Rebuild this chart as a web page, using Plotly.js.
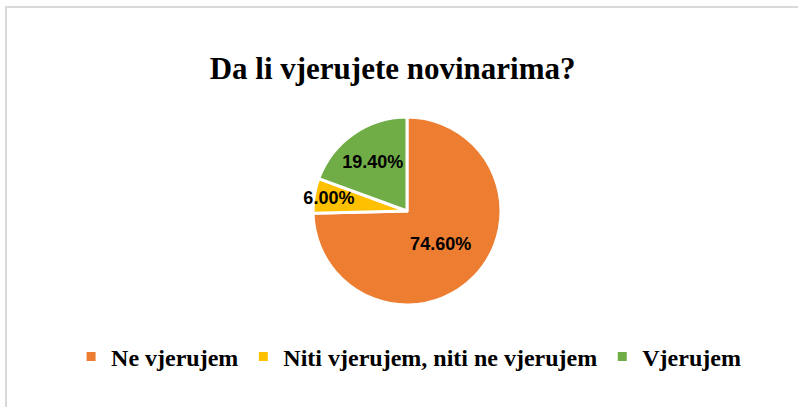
<!DOCTYPE html>
<html>
<head>
<meta charset="utf-8">
<script src="https://cdn.plot.ly/plotly-3.0.1.min.js"></script>
<style>html,body{margin:0;padding:0;background:#fff;}#chart{width:798px;height:407px;}</style>
</head>
<body>
<div id="chart"></div>
<script>
var chartTitle = 'Da li vjerujete novinarima?';
var categories = ['Ne vjerujem', 'Niti vjerujem, niti ne vjerujem', 'Vjerujem'];
var values = [74.6, 6.0, 19.4];
var colors = ['#ED7D31', '#FFC000', '#70AD47'];

var W = 798, H = 407;
var cx = 407, cy = 211, r = 94;
var serif = 'Liberation Serif';

var trace = {
  type: 'pie',
  labels: categories,
  values: values,
  sort: false,
  direction: 'clockwise',
  rotation: 0,
  marker: {colors: colors, line: {color: '#ffffff', width: 3}},
  texttemplate: '<b>%{value:.2f}%</b>',
  textposition: 'inside',
  insidetextorientation: 'horizontal',
  insidetextfont: {family: 'Liberation Sans', size: 18, color: '#000000'},
  hoverinfo: 'label+value',
  domain: {x: [(cx - r) / W, (cx + r) / W], y: [(H - cy - r) / H, (H - cy + r) / H]}
};

var layout = {
  width: W, height: H,
  margin: {l: 0, r: 0, t: 0, b: 0},
  paper_bgcolor: '#ffffff',
  showlegend: true,
  uniformtext: {mode: 'show', minsize: 18},
  font: {family: serif, color: '#000000'},
  title: {
    text: '<b>' + chartTitle + '</b>',
    font: {family: serif, size: 31, color: '#000000'},
    x: 0.492, xanchor: 'center', y: 1 - 68 / H, yanchor: 'middle'
  },
  legend: {
    orientation: 'h', x: 0.512, xanchor: 'center', y: 1 - 357 / H, yanchor: 'middle',
    font: {family: serif, size: 24, color: '#000000', weight: 'bold'},
    traceorder: 'normal'
  },
  shapes: [
    {type: 'line', xref: 'paper', yref: 'paper', x0: 5 / W, x1: 1, y0: 1 - 7 / H, y1: 1 - 7 / H, line: {color: '#d9d9d9', width: 2}},
    {type: 'line', xref: 'paper', yref: 'paper', x0: 6 / W, x1: 6 / W, y0: 0, y1: 1 - 7 / H, line: {color: '#d9d9d9', width: 2}}
  ]
};

Plotly.newPlot('chart', [trace], layout, {displayModeBar: false, staticPlot: true});
</script>
</body>
</html>
